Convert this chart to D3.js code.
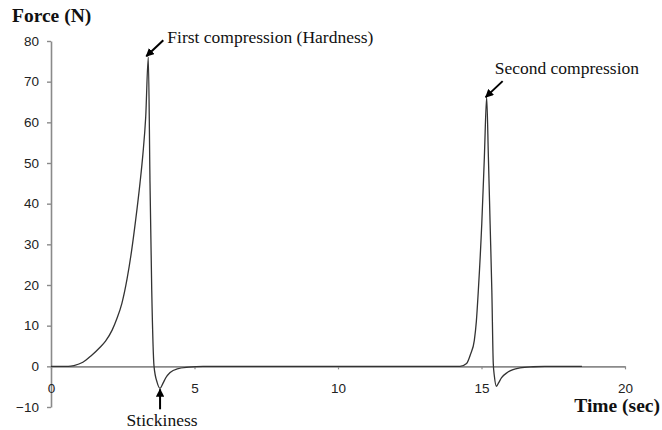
<!DOCTYPE html>
<html>
<head>
<meta charset="utf-8">
<script src="https://cdn.jsdelivr.net/npm/d3@7"></script>
<style>
  html, body { margin: 0; padding: 0; background: #fff; }
  svg { display: block; }
</style>
</head>
<body>
<svg id="chart" width="662" height="430"></svg>
<script>
// ---- data ----
const timeSec = [0, 0.6, 0.8, 1.11, 1.4, 1.71, 1.9, 2.13, 2.3, 2.47, 2.65, 2.81, 2.95, 3.1, 3.2, 3.3, 3.39,
  3.45, 3.51, 3.59, 3.7, 3.8, 3.9, 4.0, 4.15, 4.4, 4.8, 5.3,
  14.25, 14.48, 14.62, 14.75, 14.82, 14.89, 15.01, 15.10, 15.18, 15.24, 15.30, 15.36, 15.41, 15.45, 15.52,
  15.6, 15.7, 15.9, 16.1, 16.34, 16.8, 17.2, 18.5];
const forceN = [0, 0, 0.2, 1.0, 2.6, 4.7, 6.2, 8.9, 11.8, 15.5, 21.5, 28.5, 36, 45, 52, 61.3, 76,
  45, 18.7, 0, -4, -5.4, -4.2, -2.8, -1.5, -0.6, -0.2, 0,
  0, 0.7, 3, 6.4, 11, 18.7, 35.1, 51.5, 66.2, 51.5, 35.1, 18.7, 0.7, -2.5, -4.9,
  -4, -2.8, -1.5, -0.8, -0.4, -0.1, 0, 0];
const xTicks = [0, 5, 10, 15, 20];
const yTicks = [-10, 0, 10, 20, 30, 40, 50, 60, 70, 80];
const annotations = [
  { label: "First compression (Hardness)", t: 3.39, f: 76 },
  { label: "Second compression", t: 15.18, f: 66.2 },
  { label: "Stickiness", t: 3.8, f: -5.4 }
];

const svg = d3.select("#chart");
const x = d3.scaleLinear().domain([0, 20]).range([51, 625]);
const y = d3.scaleLinear().domain([-10, 80]).range([407, 41]);
const axisColor = "#8a8a8a";
const sans = "'Liberation Sans', Arial, sans-serif";
const serif = "'Liberation Serif', 'Times New Roman', serif";

// y axis
const yAxis = svg.append("g")
  .attr("transform", `translate(${x(0)},0)`)
  .call(d3.axisLeft(y).tickValues(yTicks).tickSize(4).tickSizeOuter(0).tickPadding(8));
yAxis.select(".domain").attr("stroke", axisColor).attr("stroke-width", 1.6);
yAxis.selectAll(".tick line").attr("stroke", axisColor).attr("stroke-width", 1.4);
yAxis.selectAll(".tick text").attr("font-family", sans).attr("font-size", 13.5).attr("fill", "#222");

// x axis at y = 0
const xAxis = svg.append("g")
  .attr("transform", `translate(0,${y(0)})`)
  .call(d3.axisBottom(x).tickValues(xTicks).tickSize(3).tickSizeOuter(0).tickPadding(14));
xAxis.select(".domain").attr("stroke", axisColor).attr("stroke-width", 1.6);
xAxis.selectAll(".tick line").attr("stroke", axisColor).attr("stroke-width", 1.2);
xAxis.selectAll(".tick text").attr("font-family", sans).attr("font-size", 13.5).attr("fill", "#222");

// curve
const pts = timeSec.map((t, i) => [t, forceN[i]]);
svg.append("path")
  .datum(pts)
  .attr("fill", "none")
  .attr("stroke", "#333")
  .attr("stroke-width", 1.3)
  .attr("stroke-linejoin", "round")
  .attr("d", d3.line().x(d => x(d[0])).y(d => y(d[1])).curve(d3.curveMonotoneX));

// axis titles
svg.append("text").attr("x", 12).attr("y", 22)
  .attr("font-family", serif).attr("font-weight", "bold").attr("font-size", 19.5)
  .attr("fill", "#111").text("Force (N)");
svg.append("text").attr("x", 660).attr("y", 412).attr("text-anchor", "end")
  .attr("font-family", serif).attr("font-weight", "bold").attr("font-size", 19.5)
  .attr("fill", "#111").text("Time (sec)");

// arrowhead marker
svg.append("defs").append("marker")
  .attr("id", "ah").attr("viewBox", "0 0 10 10").attr("refX", 9).attr("refY", 5)
  .attr("markerWidth", 4.2).attr("markerHeight", 4.2).attr("orient", "auto")
  .attr("markerUnits", "strokeWidth")
  .append("path").attr("d", "M0,0 L10,5 L0,10 z").attr("fill", "#000");

function arrow(x1, y1, x2, y2) {
  svg.append("line").attr("x1", x1).attr("y1", y1).attr("x2", x2).attr("y2", y2)
    .attr("stroke", "#000").attr("stroke-width", 2).attr("marker-end", "url(#ah)");
}

// annotation 1
{
  const a = annotations[0];
  const tx = x(a.t) - 2, ty = y(a.f) - 1;
  arrow(tx + 17, ty - 16, tx, ty);
  svg.append("text").attr("x", tx + 21).attr("y", ty - 13)
    .attr("font-family", serif).attr("font-size", 17.5).attr("fill", "#111").text(a.label);
}
// annotation 2
{
  const a = annotations[1];
  const tx = x(a.t) - 1, ty = y(a.f);
  arrow(tx + 17, ty - 16, tx, ty);
  svg.append("text").attr("x", tx + 9).attr("y", ty - 23)
    .attr("font-family", serif).attr("font-size", 17.5).attr("fill", "#111").text(a.label);
}
// annotation 3 (stickiness)
{
  const a = annotations[2];
  const tx = x(a.t), ty = y(a.f) + 1;
  arrow(tx, ty + 20, tx, ty);
  svg.append("text").attr("x", tx + 2).attr("y", ty + 37).attr("text-anchor", "middle")
    .attr("font-family", serif).attr("font-size", 17.5).attr("fill", "#111").text(a.label);
}
</script>
</body>
</html>
